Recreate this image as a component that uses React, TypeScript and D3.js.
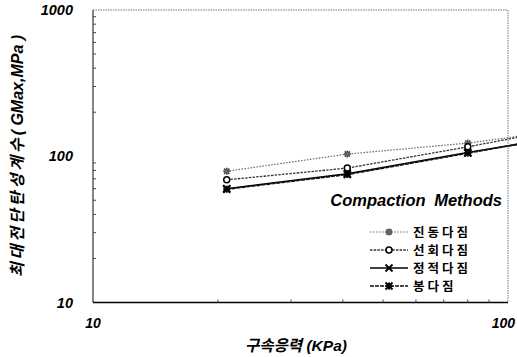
import React from "react";
import * as d3 from "d3";

const stress = [21, 41, 80, 106];
const seriesNames = ["진동다짐", "선회다짐", "정적다짐", "봉다짐"];
const vib = [79, 103.5, 123, 137];
const gyr = [69, 83, 116, 135];
const sta = [60, 76, 106, 121];
const rod = [59.5, 75, 105, 121];
const yTicks = [10, 100, 1000];
const xTicks = [10, 100];

const W = 517, H = 357;
const L = 93, R = 508, T = 10, B = 302.5;

export default function App() {
  const x = d3.scaleLog().domain([10, 100]).range([L, R]);
  const y = d3.scaleLog().domain([10, 1000]).range([B, T]);
  const line = d3.line<number>().x((_, i) => x(stress[i])).y((d) => y(d));
  const all = [vib, gyr, sta, rod];
  const styles = [
    { stroke: "#666", w: 1.2, dash: "1.5,1.5" },
    { stroke: "#333", w: 1.3, dash: "2.5,1.2" },
    { stroke: "#000", w: 1.6, dash: "" },
    { stroke: "#111", w: 1.6, dash: "4,1" },
  ];
  const marker = (k: number, cx: number, cy: number, key: string) => {
    const s = 3.5;
    if (k === 0)
      return (
        <g key={key} stroke="#444" strokeWidth={1.6}>
          <line x1={cx - s} y1={cy} x2={cx + s} y2={cy} />
          <line x1={cx} y1={cy - s} x2={cx} y2={cy + s} />
          <line x1={cx - s * 0.75} y1={cy - s * 0.75} x2={cx + s * 0.75} y2={cy + s * 0.75} />
          <line x1={cx - s * 0.75} y1={cy + s * 0.75} x2={cx + s * 0.75} y2={cy - s * 0.75} />
          <circle cx={cx} cy={cy} r={2} fill="#666" stroke="none" />
        </g>
      );
    if (k === 1)
      return <circle key={key} cx={cx} cy={cy} r={3} fill="#fff" stroke="#000" strokeWidth={1.5} />;
    if (k === 2)
      return (
        <g key={key} stroke="#000" strokeWidth={1.8}>
          <line x1={cx - s} y1={cy - s} x2={cx + s} y2={cy + s} />
          <line x1={cx - s} y1={cy + s} x2={cx + s} y2={cy - s} />
        </g>
      );
    return (
      <g key={key} stroke="#000" strokeWidth={2}>
        <line x1={cx - s} y1={cy - s} x2={cx + s} y2={cy + s} />
        <line x1={cx - s} y1={cy + s} x2={cx + s} y2={cy - s} />
        <line x1={cx} y1={cy - s} x2={cx} y2={cy + s} />
        <line x1={cx - s} y1={cy} x2={cx + s} y2={cy} />
      </g>
    );
  };
  const minorY: number[] = [];
  [10, 100].forEach((d) => { for (let m = 2; m <= 9; m++) minorY.push(d * m); });
  const minorX: number[] = [];
  for (let m = 2; m <= 9; m++) minorX.push(10 * m);
  const lab = { fontFamily: "Arial, 'Liberation Sans', sans-serif", fontWeight: 700, fontStyle: "italic" as const };
  const kr = "'Noto Sans CJK KR', sans-serif";
  const legendY = [232, 250, 268, 286];
  return (
    <svg width={W} height={H} style={{ position: "absolute", left: 0, top: 0, background: "#fff" }}>
      <rect x={0} y={0} width={W} height={H} fill="#fff" />
      <line x1={L} y1={T} x2={R} y2={T} stroke="#777" strokeWidth={1} strokeDasharray="1.5,1" />
      <line x1={R} y1={T} x2={R} y2={B} stroke="#777" strokeWidth={1} strokeDasharray="1.5,1" />
      <line x1={L} y1={T} x2={L} y2={B} stroke="#333" strokeWidth={1.2} />
      <line x1={L} y1={B} x2={R} y2={B} stroke="#000" strokeWidth={1.6} />
      {minorY.map((d) => (
        <line key={"my" + d} x1={L} x2={L + 3} y1={y(d)} y2={y(d)} stroke="#444" strokeWidth={1} />
      ))}
      {minorX.map((d) => (
        <line key={"mx" + d} x1={x(d)} x2={x(d)} y1={B} y2={B - 3} stroke="#444" strokeWidth={1} />
      ))}
      {yTicks.map((d) => (
        <text key={"yt" + d} x={73} y={y(d) + 5} textAnchor="end" fontSize={14.5} {...lab}>{d}</text>
      ))}
      {xTicks.map((d) => (
        <text key={"xt" + d} x={d === 100 ? 515 : x(d)} y={328} textAnchor={d === 100 ? "end" : "middle"} fontSize={14} {...lab}>{d}</text>
      ))}
      {all.map((s, k) => (
        <path key={"l" + k} d={line(s) || ""} fill="none" stroke={styles[k].stroke}
          strokeWidth={styles[k].w} strokeDasharray={styles[k].dash} />
      ))}
      {all.map((s, k) => s.slice(0, 3).map((v, i) => marker(k, x(stress[i]), y(v), `m${k}-${i}`)))}
      <text x={502} y={206} textAnchor="end" fontSize={16.5} {...lab} style={{ wordSpacing: "4px" }}>
        Compaction Methods
      </text>
      {seriesNames.map((n, k) => (
        <g key={"lg" + k}>
          <line x1={370} x2={408} y1={legendY[k]} y2={legendY[k]} stroke={styles[k].stroke}
            strokeWidth={styles[k].w} strokeDasharray={styles[k].dash} />
          {marker(k, 389, legendY[k], "lm" + k)}
          <text x={413} y={legendY[k] + 5} fontSize={12.5} fontFamily={kr} fontWeight={700} letterSpacing={3}>{n}</text>
        </g>
      ))}
      <text x={296} y={351} textAnchor="middle" fontSize={15.5}>
        <tspan fontFamily={kr} fontWeight={700} fontStyle="italic">구속응력</tspan>
        <tspan {...lab}>{"\u00a0(KPa)"}</tspan>
      </text>
      <text transform={`translate(23,156) rotate(-90)`} textAnchor="middle" fontSize={16}>
        <tspan fontFamily={kr} fontWeight={700} fontStyle="italic" letterSpacing={3}>최대전단탄성계수</tspan>
        <tspan {...lab}>( GMax,MPa )</tspan>
      </text>
    </svg>
  );
}
